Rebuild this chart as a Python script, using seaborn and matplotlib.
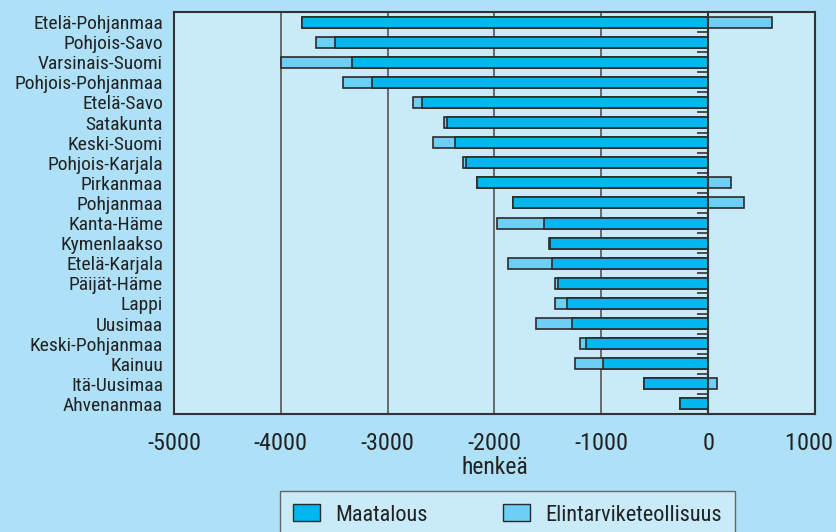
import matplotlib
matplotlib.use('Agg')
import matplotlib.pyplot as plt
import matplotlib.patches as mpatches
import numpy as np
import pandas as pd
import seaborn as sns

# Data (henkeä)
REGIONS = ['Etelä-Pohjanmaa', 'Pohjois-Savo', 'Varsinais-Suomi', 'Pohjois-Pohjanmaa',
           'Etelä-Savo', 'Satakunta', 'Keski-Suomi', 'Pohjois-Karjala', 'Pirkanmaa',
           'Pohjanmaa', 'Kanta-Häme', 'Kymenlaakso', 'Etelä-Karjala', 'Päijät-Häme',
           'Lappi', 'Uusimaa', 'Keski-Pohjanmaa', 'Kainuu', 'Itä-Uusimaa', 'Ahvenanmaa']
MAATALOUS = [-3800, -3490, -3330, -3150, -2680, -2445, -2370, -2265, -2160, -1825,
             -1535, -1485, -1460, -1410, -1325, -1275, -1145, -985, -600, -260]
ELINTARVIKE = [600, -185, -670, -265, -80, -30, -210, -28, 210, 340,
               -440, -8, -415, -25, -105, -340, -55, -265, 80, 0]
X_TICKS = [-5000, -4000, -3000, -2000, -1000, 0, 1000]
# trailing spaces keep the last label inside the figure edge
X_LABELS = ['-5000', '-4000', '-3000', '-2000', '-1000', '0', '1000  ']

C_MAA = '#00B8EF'
C_ELI = '#6DCFF6'
C_EDGE = '#2b2b2b'
FIG_BG = '#AEE0F7'
AX_BG = '#C8EAF9'
FONTS = ['Roboto Condensed', 'DejaVu Sans']

df = pd.DataFrame({'alue': REGIONS, 'maatalous': MAATALOUS, 'elintarvike': ELINTARVIKE})
# light bar covers maatalous + negative elintarvike; positive elintarvike starts at 0
df['neg_total'] = df['maatalous'] + df['elintarvike'].clip(upper=0)
df['pos'] = df['elintarvike'].clip(lower=0)

sns.set_style('white')
plt.rcParams['font.family'] = FONTS

fig = plt.figure(figsize=(8.36, 5.32), dpi=100, facecolor=FIG_BG)
ax = fig.add_axes([174 / 836, 1 - 414 / 532, 641 / 836, 402 / 532])
ax.set_facecolor(AX_BG)

bar_kw = dict(y='alue', orient='h', width=0.55, edgecolor=C_EDGE, linewidth=1.2, ax=ax)
sns.barplot(data=df, x='neg_total', color=C_ELI, saturation=1, **bar_kw)
sns.barplot(data=df, x='pos', color=C_ELI, saturation=1, **bar_kw)
sns.barplot(data=df, x='maatalous', color=C_MAA, saturation=1, **bar_kw)

n = len(REGIONS)
ax.set_xlim(-5000, 1000)
ax.set_ylim(n - 0.5, -0.5)
ax.set_xticks(X_TICKS)
ax.set_xticklabels(X_LABELS, fontsize=17.5)
ax.set_yticks(range(n))
ax.set_yticklabels(REGIONS, fontsize=14, color='#222222')
ax.tick_params(axis='y', length=0, pad=8)
ax.tick_params(axis='x', direction='out', length=9, width=1.2, color='#333333',
               labelcolor='#222222', pad=4)
ax.set_xlabel('henkeä', fontsize=17, color='#222222', labelpad=1)
ax.set_ylabel('')

for gx in X_TICKS[1:5]:
    ax.axvline(gx, color='#555555', lw=1.2, zorder=0)
for sp in ax.spines.values():
    sp.set_visible(True)
    sp.set_color('#333333')
    sp.set_linewidth(1.5)

# zero line with small marks between the rows
ax2 = ax.twinx()
ax2.set_ylim(n - 0.5, -0.5)
for name in ['left', 'top', 'bottom']:
    ax2.spines[name].set_visible(False)
ax2.spines['right'].set_position(('data', 0))
ax2.spines['right'].set_color('#333333')
ax2.spines['right'].set_linewidth(1.5)
ax2.set_yticks(np.arange(n + 1) - 0.5)
ax2.tick_params(axis='y', direction='in', length=8, width=1.2, color='#333333',
                labelright=False)
ax2.grid(False)

handles = [mpatches.Patch(facecolor=C_MAA, edgecolor=C_EDGE, label='Maatalous'),
           mpatches.Patch(facecolor=C_ELI, edgecolor=C_EDGE, label='Elintarviketeollisuus')]
leg = fig.legend(handles=handles, loc='upper center', bbox_to_anchor=(0.607, 0.077),
                 ncol=2, fontsize=16, frameon=True, fancybox=False, framealpha=1,
                 facecolor=AX_BG, edgecolor='#666666', handlelength=1.2,
                 handleheight=0.8, handletextpad=0.7, columnspacing=3.4, borderpad=0.6,
                 borderaxespad=0)
for t in leg.get_texts():
    t.set_color('#222222')

fig.savefig('out.png', dpi=100, facecolor=FIG_BG)
